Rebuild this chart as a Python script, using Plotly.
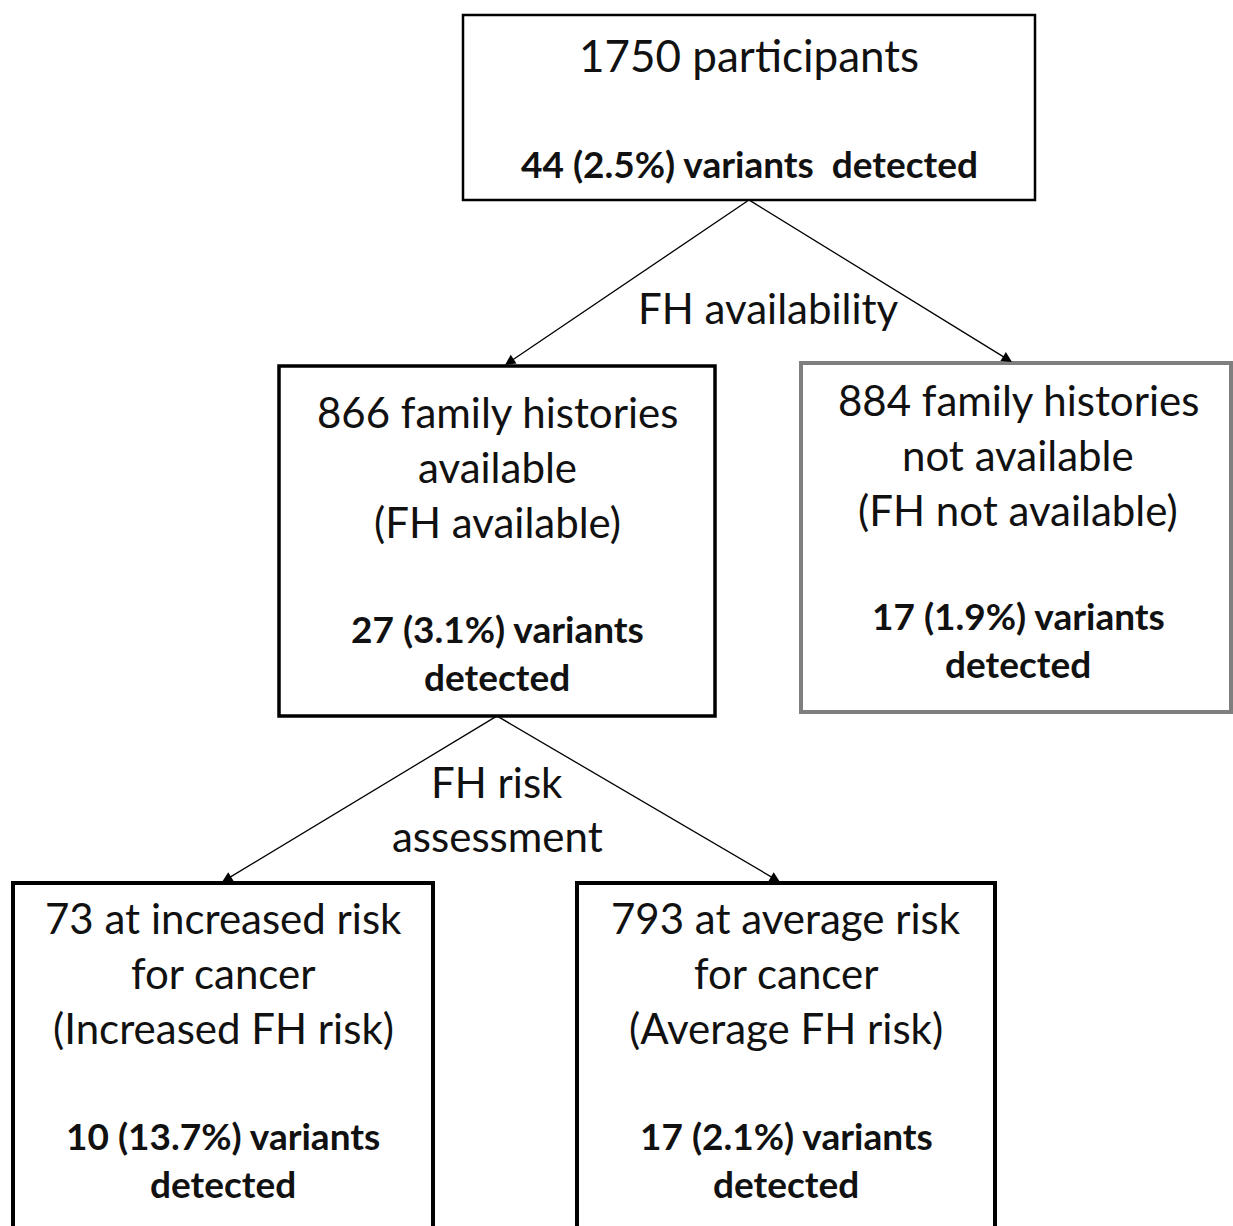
import plotly.graph_objects as go

# ---- data ----
node_names = ["all", "fh_avail", "fh_not", "inc", "avg"]
node_counts = [1750, 866, 884, 73, 793]
node_variants = [44, 27, 17, 10, 17]
node_pcts = ["2.5", "3.1", "1.9", "13.7", "2.1"]
node_desc = [
    ["{} participants"],
    ["{} family histories", "available", "(FH available)"],
    ["{} family histories", "not available", "(FH not available)"],
    ["{} at increased risk", "for cancer", "(Increased FH risk)"],
    ["{} at average risk", "for cancer", "(Average FH risk)"],
]
edge_labels = [["FH availability"], ["FH risk", "assessment"]]

# ---- layout (pixel geometry) ----
W, H = 1233, 1226
boxes = {
    "all": (463, 15, 1035, 200),
    "fh_avail": (279, 366, 715, 716),
    "fh_not": (801, 363, 1231, 712),
    "inc": (13, 883, 433, 1240),
    "avg": (577, 883, 995, 1240),
}
box_colors = {"all": "black", "fh_avail": "black", "fh_not": "#7f7f7f", "inc": "black", "avg": "black"}
box_widths = {"all": 2.5, "fh_avail": 3.5, "fh_not": 4, "inc": 4, "avg": 4}

text_rows = {
    "all": ([55], [163]),
    "fh_avail": ([412, 467, 522], [628, 676]),
    "fh_not": ([400, 455, 510], [615, 663]),
    "inc": ([918, 973, 1028], [1135, 1183]),
    "avg": ([918, 973, 1028], [1135, 1183]),
}
text_cx = {"all": 749, "fh_avail": 497, "fh_not": 1018, "inc": 223, "avg": 786}

FONT = "Lato"
NORMAL = 42
TOP_NORMAL = 44
BOLD = 37

fig = go.Figure()
fig.add_trace(go.Scatter(x=[0, W], y=[0, H], mode="markers", marker=dict(opacity=0), hoverinfo="skip", showlegend=False))

shapes = []
annotations = []

for i, name in enumerate(node_names):
    x0, y0, x1, y1 = boxes[name]
    shapes.append(dict(type="rect", x0=x0, y0=y0, x1=x1, y1=y1, xref="x", yref="y",
                       line=dict(color=box_colors[name], width=box_widths[name]), fillcolor="white", layer="below"))
    cx = text_cx[name]
    desc = [node_desc[i][0].format(node_counts[i])] + node_desc[i][1:]
    if name == "all":
        bold_lines = ["{} ({}%) variants  detected".format(node_variants[i], node_pcts[i])]
    else:
        bold_lines = ["{} ({}%) variants".format(node_variants[i], node_pcts[i]), "detected"]
    nrows, brows = text_rows[name]
    nsize = TOP_NORMAL if name == "all" else NORMAL
    for t, y in zip(desc, nrows):
        annotations.append(dict(x=cx, y=y, xref="x", yref="y", text=t, showarrow=False,
                                font=dict(family=FONT, size=nsize, color="#111"), xanchor="center", yanchor="middle"))
    for t, y in zip(bold_lines, brows):
        annotations.append(dict(x=cx, y=y, xref="x", yref="y", text="<b>" + t.replace("  ", "&nbsp; ") + "</b>", showarrow=False,
                                font=dict(family=FONT, size=BOLD, color="#111"), xanchor="center", yanchor="middle"))

# edges: (from node, start x, to node, end x)
edges = [("all", 749, "fh_avail", 505), ("all", 749, "fh_not", 1012),
         ("fh_avail", 497, "inc", 222), ("fh_avail", 497, "avg", 780)]
for src, sx, dst, tx in edges:
    sy = boxes[src][3]
    dy = boxes[dst][1]
    annotations.append(dict(x=tx, y=dy - 1, ax=sx, ay=sy, xref="x", yref="y", axref="x", ayref="y",
                            text="", showarrow=True, arrowhead=2, arrowsize=1.6, arrowwidth=1.3,
                            arrowcolor="black", standoff=0))

label_pos = [(768, [308]), (497, [782, 836])]
for (lx, lys), lab in zip(label_pos, edge_labels):
    for t, y in zip(lab, lys):
        annotations.append(dict(x=lx, y=y, xref="x", yref="y", text=t, showarrow=False,
                                font=dict(family=FONT, size=NORMAL, color="#111"), xanchor="center", yanchor="middle"))

fig.update_layout(
    width=W, height=H, margin=dict(l=0, r=0, t=0, b=0),
    paper_bgcolor="white", plot_bgcolor="white",
    xaxis=dict(range=[0, W], visible=False, fixedrange=True),
    yaxis=dict(range=[H, 0], visible=False, fixedrange=True),
    shapes=shapes, annotations=annotations, showlegend=False,
)
fig.write_html("out.html", config={"displayModeBar": False},
               post_script="document.body.style.margin='0px';document.body.style.overflow='hidden';")
